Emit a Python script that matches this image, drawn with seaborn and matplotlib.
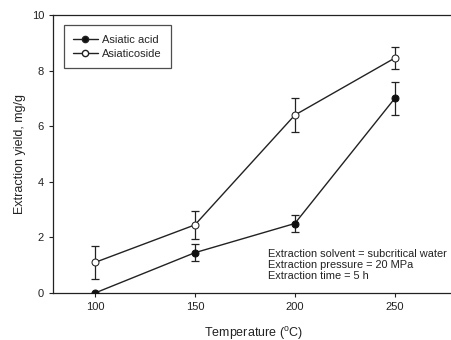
import matplotlib
matplotlib.use("Agg")
import matplotlib.pyplot as plt
import pandas as pd
import seaborn as sns
from matplotlib.lines import Line2D

# Dane
temperature = [100, 150, 200, 250]
asiatic_acid = [0.0, 1.45, 2.5, 7.0]
asiatic_acid_err = [0.0, 0.3, 0.3, 0.6]
asiaticoside = [1.1, 2.45, 6.4, 8.45]
asiaticoside_err = [0.6, 0.5, 0.6, 0.4]

data = pd.DataFrame({
    'temperature': temperature * 2,
    'yield': asiatic_acid + asiaticoside,
    'compound': ['Asiatic acid'] * 4 + ['Asiaticoside'] * 4,
})

sns.set_style("white")
plt.rcParams['font.family'] = ['Liberation Sans', 'DejaVu Sans']

fig = plt.figure(figsize=(4.52, 3.4), dpi=100)
ax = fig.add_axes([53 / 452, 1 - 293 / 340, (454.7 - 53) / 452, (293 - 15) / 340])

# Słupki błędów
ax.errorbar(temperature, asiatic_acid, yerr=asiatic_acid_err, fmt='none', ecolor='#222222',
            elinewidth=0.9, capsize=3, capthick=0.9, zorder=2)
ax.errorbar(temperature, asiaticoside, yerr=asiaticoside_err, fmt='none', ecolor='#222222',
            elinewidth=0.9, capsize=3, capthick=0.9, zorder=2)

sns.lineplot(data=data, x='temperature', y='yield', hue='compound', style='compound',
             palette=['#222222', '#222222'], markers=['o', 'o'], dashes=False,
             linewidth=1.0, markersize=5, ax=ax, zorder=3, legend=False)

# Pusty marker dla Asiaticoside
lines = ax.get_lines()
lines[-1].set_markerfacecolor('white')
lines[-1].set_markeredgecolor('#222222')
lines[-2].set_markerfacecolor('#111111')
lines[-2].set_markeredgecolor('#111111')

handles = [Line2D([], [], color='#222222', marker='o', markersize=4.5, lw=1.0,
                  markerfacecolor='#111111'),
           Line2D([], [], color='#222222', marker='o', markersize=4.5, lw=1.0,
                  markerfacecolor='white')]
leg = ax.legend(handles, ['Asiatic acid', 'Asiaticoside'], loc='upper left',
                bbox_to_anchor=(0.013, 0.983), frameon=True, fancybox=False,
                fontsize=8, handlelength=2.2, borderpad=0.85, labelspacing=0.35,
                handletextpad=0.4)
leg.get_frame().set_edgecolor('#222222')
leg.get_frame().set_linewidth(0.9)

ax.text(0.535, 0.043, 'Extraction solvent = subcritical water\nExtraction pressure = 20 MPa\nExtraction time = 5 h',
        transform=ax.transAxes, fontsize=7.9, va='bottom', ha='left', linespacing=1.1, color='#222222')

ax.set_xlim(79, 280)
ax.set_ylim(0, 10)
ax.set_xticks([100, 150, 200, 250])
ax.set_yticks([0, 2, 4, 6, 8, 10])
ax.tick_params(axis='both', direction='out', length=3, width=0.8, labelsize=8,
               colors='#222222', bottom=True, left=True)
ax.set_xlabel('Temperature ($^{\\mathregular{o}}$C)', fontsize=9, color='#222222', labelpad=9)
ax.set_ylabel('Extraction yield, mg/g', fontsize=9, color='#222222')
for side in ['top', 'bottom', 'left', 'right']:
    ax.spines[side].set_color('#222222')
    ax.spines[side].set_linewidth(0.9)

fig.savefig('out.png', dpi=100)
